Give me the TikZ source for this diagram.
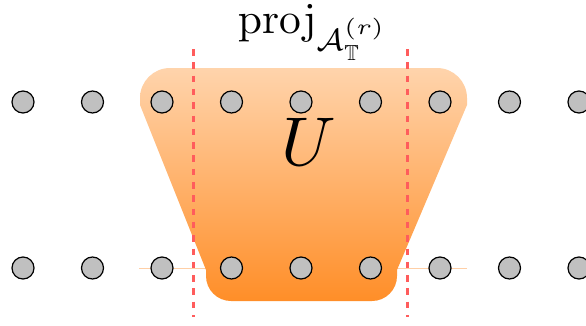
\documentclass[tikz,border=0pt]{standalone}
\usepackage{amsmath,amssymb}
\definecolor{shtop}{HTML}{FFD4AC}
\definecolor{shbot}{HTML}{FF8E28}
\definecolor{projred}{HTML}{FF5C5C}
\definecolor{baseline}{HTML}{FFCFA6}
\definecolor{dotgray}{HTML}{C0C0C0}
\tikzset{
  site/.style={circle, draw=black, fill=dotgray, line width=1.2pt, minimum size=22pt, inner sep=0pt},
  projline/.style={draw=projred, line width=3pt, dash pattern=on 6.5pt off 6.8pt},
  rowline/.style={draw=baseline, line width=0.9pt},
}
\begin{document}
\begin{tikzpicture}[x=1pt,y=1pt]
\useasboundingbox (0,0) rectangle (586,325);
% light line behind bottom row
\coordinate (la) at (139,57);
\coordinate (lb) at (467,57);
\draw[rowline] (la) -- (lb);
% shaded unitary
\shade[top color=shtop, bottom color=shbot]
  (170,257) -- (437,257) arc[start angle=90, end angle=0, radius=30]
  -- (467,220) -- (397,55) -- (397,49) arc[start angle=0, end angle=-90, radius=25]
  -- (231,24) arc[start angle=270, end angle=180, radius=25]
  -- (206,55) -- (140,220) -- (140,227) arc[start angle=180, end angle=90, radius=30]
  -- cycle;
\node[scale=6.9] (U) at (309,183) {$U$};
% sites
\foreach \i in {0,...,8}{
  \node[site] (t\i) at ({23+69.5*\i},223) {};
  \node[site] (b\i) at ({23+69.5*\i},57) {};
}
% projection lines
\coordinate (p1t) at (193,276);
\coordinate (p1b) at (193,8);
\coordinate (p2t) at (407,276);
\coordinate (p2b) at (407,8);
\draw[projline] (p1t) -- (p1b);
\draw[projline] (p2t) -- (p2b);
% label
\node[scale=4.35, inner sep=0pt, anchor=base west] (proj) at (237,292) {$\mathrm{proj}_{\mathcal{A}_{\mathbb{T}}^{(r)}}$};
\end{tikzpicture}
\end{document}
